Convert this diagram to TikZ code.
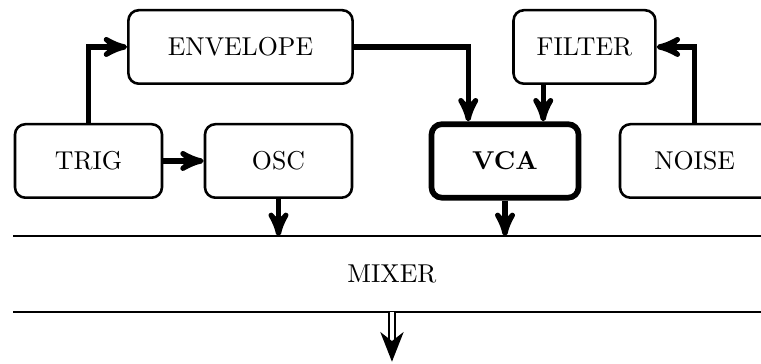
\documentclass[tikz,border=0pt]{standalone}
\usepackage{tikz}
\usepackage{xcolor}
\usetikzlibrary{positioning, arrows, arrows.meta}

\begin{document}
\begin{tikzpicture}[->,>=stealth',auto,node distance=2.585cm,line width=2pt]
        \tikzstyle{block}=[draw,rounded corners,line width=1pt,minimum width=2cm,minimum height=1cm,text=black]
        \tikzstyle{bus}=[-,line width=1pt,overlay]

        \useasboundingbox (0,0) rectangle (10.354,4.952);
        \clip (0,0) rectangle (10.354,4.952);

        \node[block] (T) at (1.204,2.762) {TRIG};
        \node[block] (O) [right of=T] {OSC};
        \node[block,line width=2.2pt] (V) [right of=O, node distance=3.082cm] {\textbf{VCA}};
        % noise box runs off the right edge
        \node[block,overlay,minimum width=2.4cm] (N) [right of=V, node distance=2.765cm] {NOISE\hspace*{0.37cm}};
        \node[block,minimum width=3.05cm] (E) at (3.272,4.313) {ENVELOPE};
        \node[block,minimum width=1.93cm] (F) at (7.952,4.313) {FILTER};
        \node (M) at (5.333,1.224) {MIXER};

        \coordinate (Mt) at (0.177,1.741);
        \coordinate (Mb) at (0.177,0.707);
        \coordinate (out) at (5.333,0.03);

        \draw[bus] (Mt) -- (Mt -| N.east);
        \draw[bus] (Mb) -- (Mb -| N.east);

        \path (T) edge (O);
        \draw (T) |- (E);
        \draw (E) -| ([xshift=-0.5cm]V.north);
        \draw ([xshift=0.52cm]V.north |- F.south) -- ([xshift=0.52cm]V.north);
        \draw ([xshift=-0.185cm]N.north) |- (F);
        \draw (O) -- (O |- Mt);
        \draw (V) -- (V |- Mt);
        \draw[-{Stealth[length=11.5pt,width=9pt,inset=3.5pt]},double,line width=0.9pt,double distance=1.4pt] (M |- Mb) -- (out);
    \end{tikzpicture}
\end{document}
